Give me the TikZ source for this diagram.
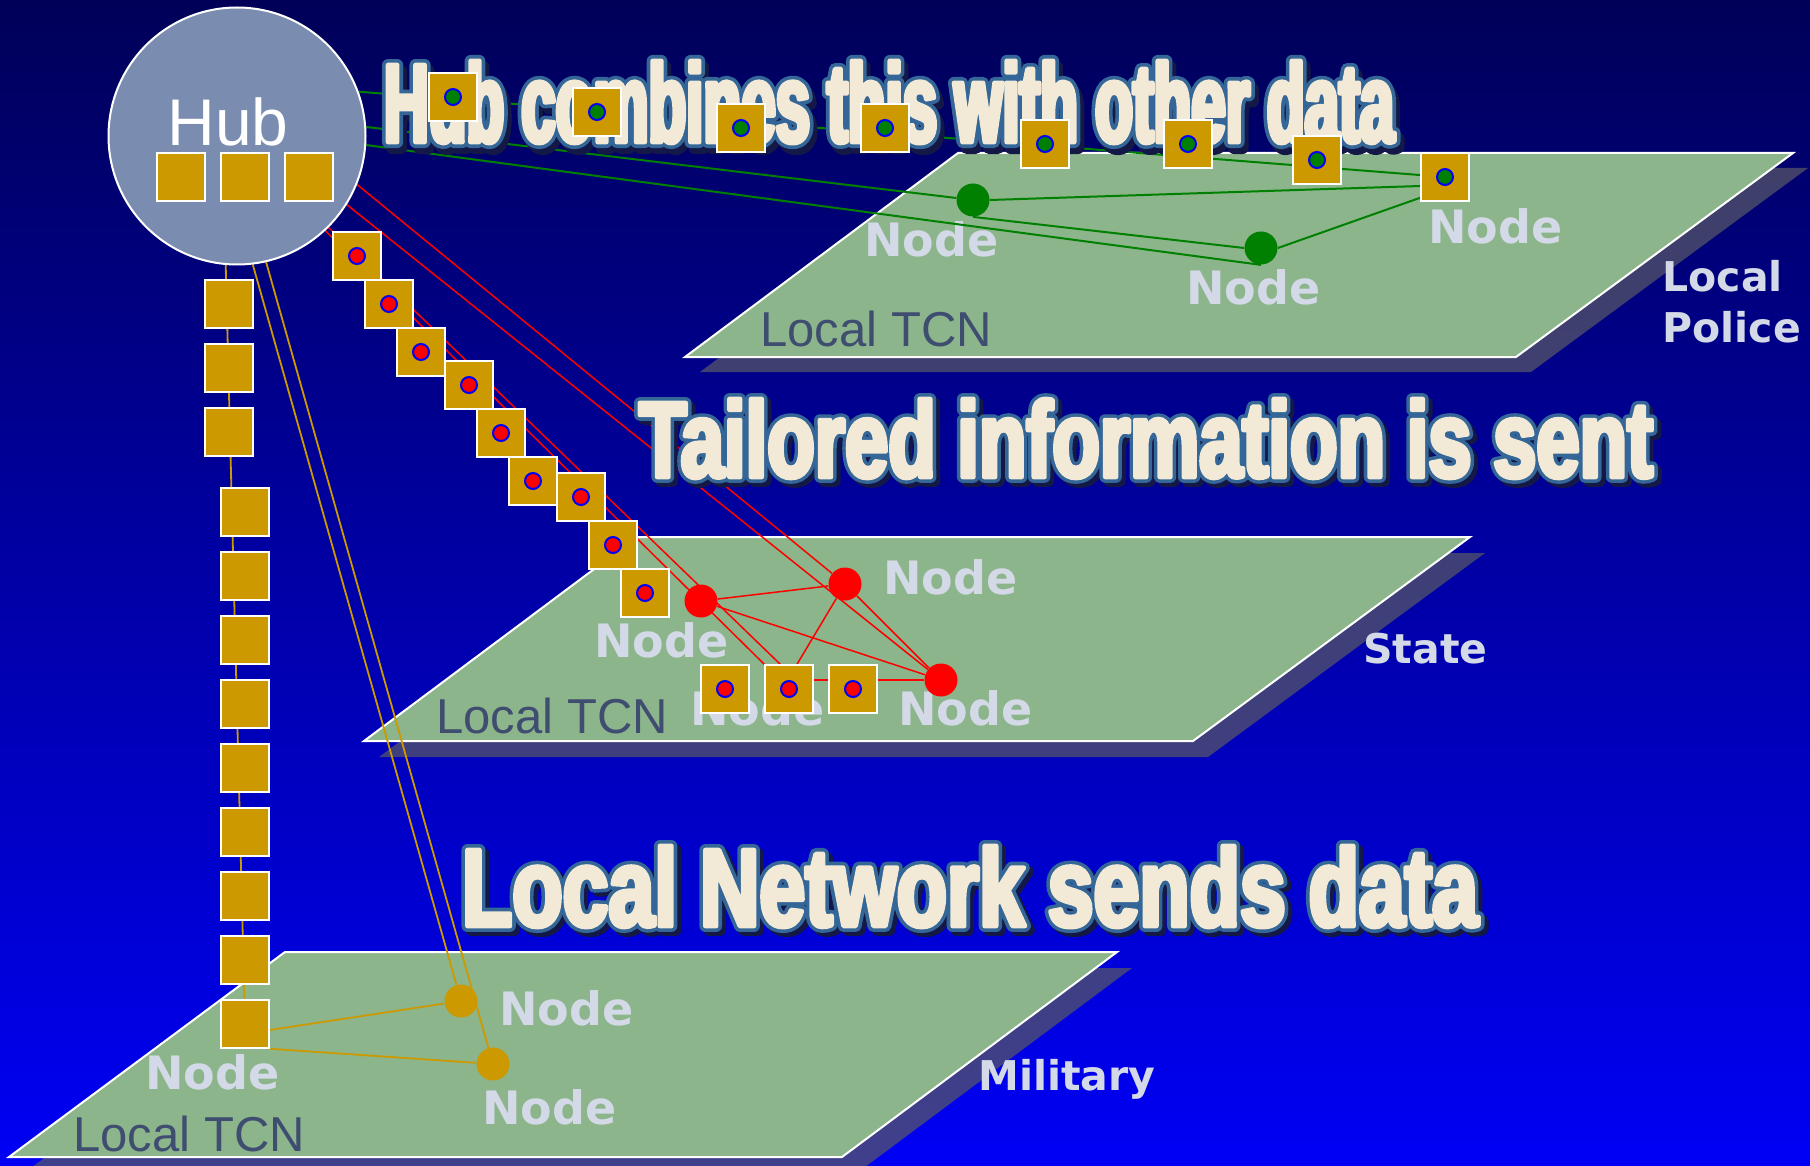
\documentclass[tikz,border=0pt]{standalone}
\usepackage{fontspec}
\usepackage{graphicx}
\setmainfont{Liberation Sans}
\newfontfamily\lblfont{DejaVu Sans}
\newfontfamily\ttlfont{Liberation Sans Bold}
\usetikzlibrary{calc}
\definecolor{bgtop}{RGB}{0,0,88}
\definecolor{bgbot}{RGB}{0,0,245}
\definecolor{planec}{RGB}{140,181,139}
\definecolor{pshadow}{RGB}{85,85,105}
\definecolor{hubc}{RGB}{122,141,176}
\definecolor{gold}{RGB}{204,153,0}
\definecolor{dkgreen}{RGB}{0,128,0}
\definecolor{lblc}{RGB}{212,217,232}
\definecolor{tcnc}{RGB}{63,77,112}
\definecolor{cream}{RGB}{242,234,215}
\definecolor{ttlout}{RGB}{52,102,152}
\definecolor{ttlshadow}{RGB}{20,24,70}
\pgfdeclarelayer{bg}
\pgfdeclarelayer{lines}
\pgfsetlayers{bg,lines,main}
% title boxes: #1 box, #2 width, #3 height, #4 size, #5 stretch, #6 bold, #7 text
\newcommand\mkttl[7]{\setbox#1\hbox{\special{pdf:literal direct 1 j 1 J}\resizebox{#2}{#3}{\ttlfont\fontsize{#4}{#4}\selectfont\addfontfeatures{FakeStretch=#5,FakeBold=#6}#7}}}
\newsavebox\tAo \newsavebox\tAf
\newsavebox\tBo \newsavebox\tBf
\newsavebox\tCo \newsavebox\tCf
\begin{document}
\mkttl{\tAo}{505pt}{40.5pt}{56.6}{0.546}{10.8}{Hub combines this with other data}%
\mkttl{\tAf}{505pt}{40.5pt}{56.6}{0.546}{4.3}{Hub combines this with other data}%
\mkttl{\tBo}{507pt}{39pt}{53.6}{0.721}{10.8}{Tailored information is sent}%
\mkttl{\tBf}{507pt}{39pt}{53.6}{0.721}{4.3}{Tailored information is sent}%
\mkttl{\tCo}{508pt}{40pt}{55.9}{0.737}{10.8}{Local Network sends data}%
\mkttl{\tCf}{508pt}{40pt}{55.9}{0.737}{4.3}{Local Network sends data}%
\begin{tikzpicture}[x=0.5pt,y=-0.5pt,
  sq/.style={rectangle,minimum size=24pt,inner sep=0pt,fill=gold,draw=white,line width=0.75pt},
  gsq/.style={sq,path picture={\fill[draw=blue,line width=1pt,fill=dkgreen] (path picture bounding box.center) circle (4pt);}},
  rsq/.style={sq,path picture={\fill[draw=blue,line width=1pt,fill=red] (path picture bounding box.center) circle (4pt);}},
  dotn/.style={circle,minimum size=16.5pt,inner sep=0pt},
  gdot/.style={dotn,fill=dkgreen},
  rdot/.style={dotn,fill=red},
  odot/.style={dotn,fill=gold},
  gline/.style={draw=dkgreen,line width=1pt},
  rline/.style={draw=red,line width=0.75pt},
  oline/.style={draw=gold,line width=0.9pt},
  plane/.style={fill=planec,draw=white,line width=1pt},
  pshad/.style={fill=pshadow,fill opacity=0.75},
  nodelbl/.style={anchor=base west,inner sep=0pt,text=lblc,font=\lblfont\bfseries\fontsize{23}{23}\selectfont},
  tcn/.style={anchor=base west,inner sep=0pt,text=tcnc,font=\fontsize{24.5}{24.5}\selectfont},
  grp/.style={anchor=base west,inner sep=0pt,text=lblc,font=\lblfont\bfseries\fontsize{20.5}{20.5}\selectfont},
  ttlnode/.style={anchor=base west,inner sep=0pt,outer sep=0pt,line join=round,line cap=round}]

\useasboundingbox (0,0) rectangle (1810,1166);

\begin{pgfonlayer}{bg}
\shade[top color=bgtop,bottom color=bgbot] (0,0) rectangle (1810,1166);
% planes
\fill[pshad,shift={(15,15)}] (958,153) -- (1793,153) -- (1516,357) -- (685,357) -- cycle;
\path[plane] (958,153) -- (1793,153) -- (1516,357) -- (685,357) -- cycle;
\fill[pshad,shift={(15,16)}] (637,537) -- (1470,537) -- (1193,741) -- (364,741) -- cycle;
\path[plane] (637,537) -- (1470,537) -- (1193,741) -- (364,741) -- cycle;
\fill[pshad,shift={(15,16)}] (285,952) -- (1117,952) -- (842,1157) -- (9,1157) -- cycle;
\path[plane] (285,952) -- (1117,952) -- (842,1157) -- (9,1157) -- cycle;
% labels
\node[nodelbl] (n1) at (864,257) {Node};
\node[nodelbl] (n2) at (1186,305) {Node};
\node[nodelbl] (n3) at (1428,244) {Node};
\node[tcn] (tcn1) at (760,346) {Local TCN};
\node[grp] (lp1) at (1662,292) {Local};
\node[grp] (lp2) at (1662,343) {Police};
\node[nodelbl] (n4) at (883,594) {Node};
\node[nodelbl] (n5) at (594,657) {Node};
\node[nodelbl] (n6) at (690,725) {Node};
\node[nodelbl] (n7) at (898,725) {Node};
\node[tcn] (tcn2) at (436,733) {Local TCN};
\node[grp] (st) at (1363,663) {State};
\node[nodelbl] (n8) at (499,1025) {Node};
\node[nodelbl] (n9) at (145,1089) {Node};
\node[nodelbl] (n10) at (482,1124) {Node};
\node[tcn] (tcn3) at (73,1151) {Local TCN};
\node[grp] (mil) at (978,1090) {Military};
\end{pgfonlayer}

% titles: shadow, outline, fill
\node[ttlnode,text=ttlshadow] (t1s) at (388,148) {\usebox\tAo};
\node[ttlnode,text=ttlout] (t1o) at (384,142) {\usebox\tAo};
\node[ttlnode,text=cream] (t1) at (384,142) {\usebox\tAf};
\node[ttlnode,text=ttlshadow] (t2s) at (643,481) {\usebox\tBo};
\node[ttlnode,text=ttlout] (t2o) at (639,477) {\usebox\tBo};
\node[ttlnode,text=cream] (t2) at (639,477) {\usebox\tBf};
\node[ttlnode,text=ttlshadow] (t3s) at (466,930) {\usebox\tCo};
\node[ttlnode,text=ttlout] (t3o) at (462,926) {\usebox\tCo};
\node[ttlnode,text=cream] (t3) at (462,926) {\usebox\tCf};

% hub
\node[circle,minimum size=128.5pt,inner sep=0pt,fill=hubc,draw=white,line width=1pt] (hub) at (237,136) {};
\node[anchor=base west,inner sep=0pt,text=white,font=\fontsize{33}{33}\selectfont] (hubtxt) at (167,146) {Hub};
\node[sq] (h1) at (181,177) {};
\node[sq] (h2) at (245,177) {};
\node[sq] (h3) at (309,177) {};

% green packets
\node[gsq] (gs1) at (453,97) {};
\node[gsq] (gs2) at (597,112) {};
\node[gsq] (gs3) at (741,128) {};
\node[gsq] (gs4) at (885,128) {};
\node[gsq] (gs5) at (1045,144) {};
\node[gsq] (gs6) at (1188,144) {};
\node[gsq] (gs7) at (1317,160) {};
\node[gsq] (gs8) at (1445,177) {};
\node[gdot] (pd1) at (973,200) {};
\node[gdot] (pd2) at (1261,248) {};

% red packets
\node[rsq] (rs1) at (357,256) {};
\node[rsq] (rs2) at (389,304) {};
\node[rsq] (rs3) at (421,352) {};
\node[rsq] (rs4) at (469,385) {};
\node[rsq] (rs5) at (501,433) {};
\node[rsq] (rs6) at (533,481) {};
\node[rsq] (rs7) at (581,497) {};
\node[rsq] (rs8) at (613,545) {};
\node[rsq] (rs9) at (645,593) {};
\node[rsq] (rb1) at (725,689) {};
\node[rsq] (rb2) at (789,689) {};
\node[rsq] (rb3) at (853,689) {};
\node[rdot] (pr1) at (701,601) {};
\node[rdot] (pr2) at (845,584) {};
\node[rdot] (pr3) at (941,680) {};

% orange packets
\node[sq] (ob1) at (229,304) {};
\node[sq] (ob2) at (229,368) {};
\node[sq] (ob3) at (229,432) {};
\node[sq] (ob4) at (245,512) {};
\node[sq] (ob5) at (245,576) {};
\node[sq] (ob6) at (245,640) {};
\node[sq] (ob7) at (245,704) {};
\node[sq] (ob8) at (245,768) {};
\node[sq] (ob9) at (245,832) {};
\node[sq] (ob10) at (245,896) {};
\node[sq] (ob11) at (245,960) {};
\node[sq] (ob12) at (245,1024) {};
\node[odot] (od1) at (461,1001) {};
\node[odot] (od2) at (493,1064) {};

\begin{pgfonlayer}{lines}
% green
\draw[gline] (hub.20) -- (gs8);
\draw[gline] (hub.4) -- (pd1);
\draw[gline] (hub.-4) -- (pd2.south);
\draw[gline] (pd1.south) -- (pd2.west);
\draw[gline] (pd1.east) -- ($(gs8.west)+(0,9)$);
\draw[gline] (pd2.east) -- ($(gs8.south west)+(0,-4)$);
% red
\draw[rline] (hub.-22) -- (pr2);
\draw[rline] (hub.-32) -- (pr3);
\draw[rline] (hub.-45) -- ([xshift=8pt]rb2.north west);
\draw[rline] (hub.-47) -- (rb2.north west);
\draw[rline] (pr1) -- (pr2);
\draw[rline] (pr1) -- (pr3);
\draw[rline] (pr2) -- ([xshift=4pt]rb2.north);
\draw[rline] (pr2) -- (pr3);
\draw[rline] ([yshift=4.5pt]rb2.center) -- (pr3);
% orange
\draw[oline] (hub.-95) -- (ob12);
\draw[oline] (hub.-83) -- (od1);
\draw[oline] (hub.-77) -- (od2);
\draw[oline] ([yshift=-3pt]ob12.east) -- (od1);
\draw[oline] (ob12.south east) -- (od2);
\end{pgfonlayer}
\end{tikzpicture}
\end{document}
